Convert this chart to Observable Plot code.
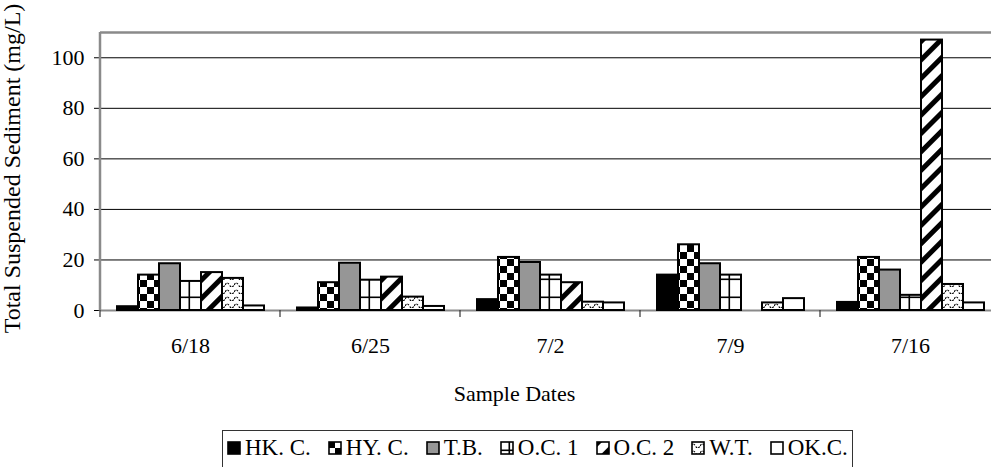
<!DOCTYPE html>
<html>
<head>
<meta charset="utf-8">
<script src="https://cdn.jsdelivr.net/npm/d3@7"></script>
<script src="https://cdn.jsdelivr.net/npm/@observablehq/plot@0.6"></script>
<style>
  html, body { margin: 0; padding: 0; background: white; overflow: hidden; }
  body { width: 991px; height: 467px; font-family: "Liberation Serif", "Times New Roman", serif; }
  #legend {
    position: absolute; left: 222px; top: 430px; height: 44px;
    border: 1px solid #333; box-sizing: border-box;
    display: flex; align-items: flex-start; padding: 4px 4px 0 4px;
    font-size: 23px; white-space: nowrap; background: white;
  }
  .item { display: flex; align-items: center; margin-right: 17px; }
  .item:last-child { margin-right: 0; }
  .item svg { margin-right: 4px; }
</style>
</head>
<body>
<svg width="0" height="0" style="position:absolute">
  <defs>
    <pattern id="checker" patternUnits="userSpaceOnUse" width="14" height="14">
      <rect width="14" height="14" fill="white"/>
      <rect x="0" y="0" width="7" height="7" fill="black"/>
      <rect x="7" y="7" width="7" height="7" fill="black"/>
    </pattern>
    <pattern id="grid" patternUnits="userSpaceOnUse" width="18" height="18">
      <rect width="18" height="18" fill="white"/>
      <rect x="8.5" y="0" width="1.6" height="18" fill="black"/>
      <rect x="0" y="8.5" width="18" height="1.6" fill="black"/>
    </pattern>
    <pattern id="diag" patternUnits="userSpaceOnUse" width="13" height="13" patternTransform="rotate(45)">
      <rect width="13" height="13" fill="white"/>
      <rect x="0" y="0" width="5" height="13" fill="black"/>
    </pattern>
    <pattern id="wave" patternUnits="userSpaceOnUse" width="9" height="7">
      <rect width="9" height="7" fill="white"/>
      <path d="M0,5 Q2.25,1 4.5,5 T9,5" fill="none" stroke="black" stroke-width="1.2" stroke-dasharray="2,1.2"/>
    </pattern>
  </defs>
</svg>
<div id="chart"></div>
<div id="legend"></div>
<script>
// ---- data ----
const dates = ["6/18", "6/25", "7/2", "7/9", "7/16"];
const series = ["HK. C.", "HY. C.", "T.B.", "O.C. 1", "O.C. 2", "W.T.", "OK.C."];
const hkC  = [1.5, 1.0, 4.3, 14, 3.2];
const hyC  = [14, 11, 21, 26, 21];
const tb   = [18.5, 18.7, 19, 18.5, 16];
const oc1  = [11.5, 12, 14, 14, 6];
const oc2  = [15, 13.2, 11, 0, 107];
const wt   = [12.7, 5.3, 3.3, 3, 10.3];
const okC  = [1.8, 1.6, 3.0, 4.7, 3];
const yTicks = [0, 20, 40, 60, 80, 100];
const yMax = 110;
const yLabel = "Total Suspended Sediment (mg/L)";
const xLabel = "Sample Dates";

const seriesValues = [hkC, hyC, tb, oc1, oc2, wt, okC];
const fills = ["black", "url(#checker)", "#969696", "url(#grid)", "url(#diag)", "url(#wave)", "white"];

const data = [];
series.forEach((s, j) => dates.forEach((d, i) => data.push({date: d, series: s, value: seriesValues[j][i]})));

const plot = Plot.plot({
  width: 991,
  height: 430,
  marginLeft: 100,
  marginRight: -9,
  marginTop: 32,
  marginBottom: 120,
  style: {fontFamily: "'Liberation Serif', 'Times New Roman', serif", fontSize: "22px", color: "black", background: "white", overflow: "hidden"},
  fx: {domain: dates, padding: 0, label: xLabel, labelAnchor: "center", labelArrow: "none", tickSize: 0, tickPadding: 27, labelOffset: 90},
  x: {domain: series, paddingInner: 0, paddingOuter: 0.7, axis: null},
  y: {domain: [0, yMax], ticks: yTicks, tickSize: 6, tickPadding: 10, label: yLabel, labelAnchor: "center", labelArrow: "none", labelOffset: 98},
  color: {type: "ordinal", domain: series, range: fills},
  marks: [
    Plot.ruleY(yTicks.filter(v => v > 0), {stroke: "black", strokeWidth: 1}),
    Plot.ruleY([yMax], {stroke: "#8a8a8a", strokeWidth: 2.5}),
    Plot.ruleY([0], {stroke: "#8a8a8a", strokeWidth: 2}),
    Plot.barY(data, {filter: d => d.value > 0, fx: "date", x: "series", y: "value", fill: "series", stroke: "black", strokeWidth: 2})
  ]
});

// axis labels: strip any arrow, size and placement tweaks
d3.select(plot).selectAll("text").each(function () {
  const t = d3.select(this);
  const txt = this.textContent.replace(/[↑↓←→]/g, "").trim();
  if (txt === yLabel) {
    this.textContent = yLabel;
    t.attr("font-size", 24).attr("dx", 3);
  } else if (txt === xLabel) {
    this.textContent = xLabel;
    t.attr("dx", -36);
  }
});

// axis line and category boundary ticks, positioned from Plot's own scales
const fxs = plot.scale("fx");
const ys = plot.scale("y");
const edges = dates.map(d => fxs.apply(d)).concat([fxs.apply(dates[dates.length - 1]) + fxs.bandwidth]);
const g = d3.select(plot).append("g");
g.append("line")
  .attr("x1", edges[0]).attr("x2", edges[0])
  .attr("y1", ys.apply(yMax)).attr("y2", ys.apply(0) + 1)
  .attr("stroke", "#8a8a8a").attr("stroke-width", 2.5);
g.selectAll(".bt").data(edges).join("line")
  .attr("x1", d => d).attr("x2", d => d)
  .attr("y1", ys.apply(0)).attr("y2", ys.apply(0) + 7)
  .attr("stroke", "#333").attr("stroke-width", 1.2);

document.getElementById("chart").appendChild(plot);

// legend
const legend = d3.select("#legend");
series.forEach((s, j) => {
  const item = legend.append("div").attr("class", "item");
  const sw = item.append("svg").attr("width", 14).attr("height", 14);
  sw.append("rect").attr("x", 1).attr("y", 1).attr("width", 12).attr("height", 12)
    .attr("fill", fills[j]).attr("stroke", "black").attr("stroke-width", 1.6);
  item.append("span").text(s);
});
</script>
</body>
</html>
